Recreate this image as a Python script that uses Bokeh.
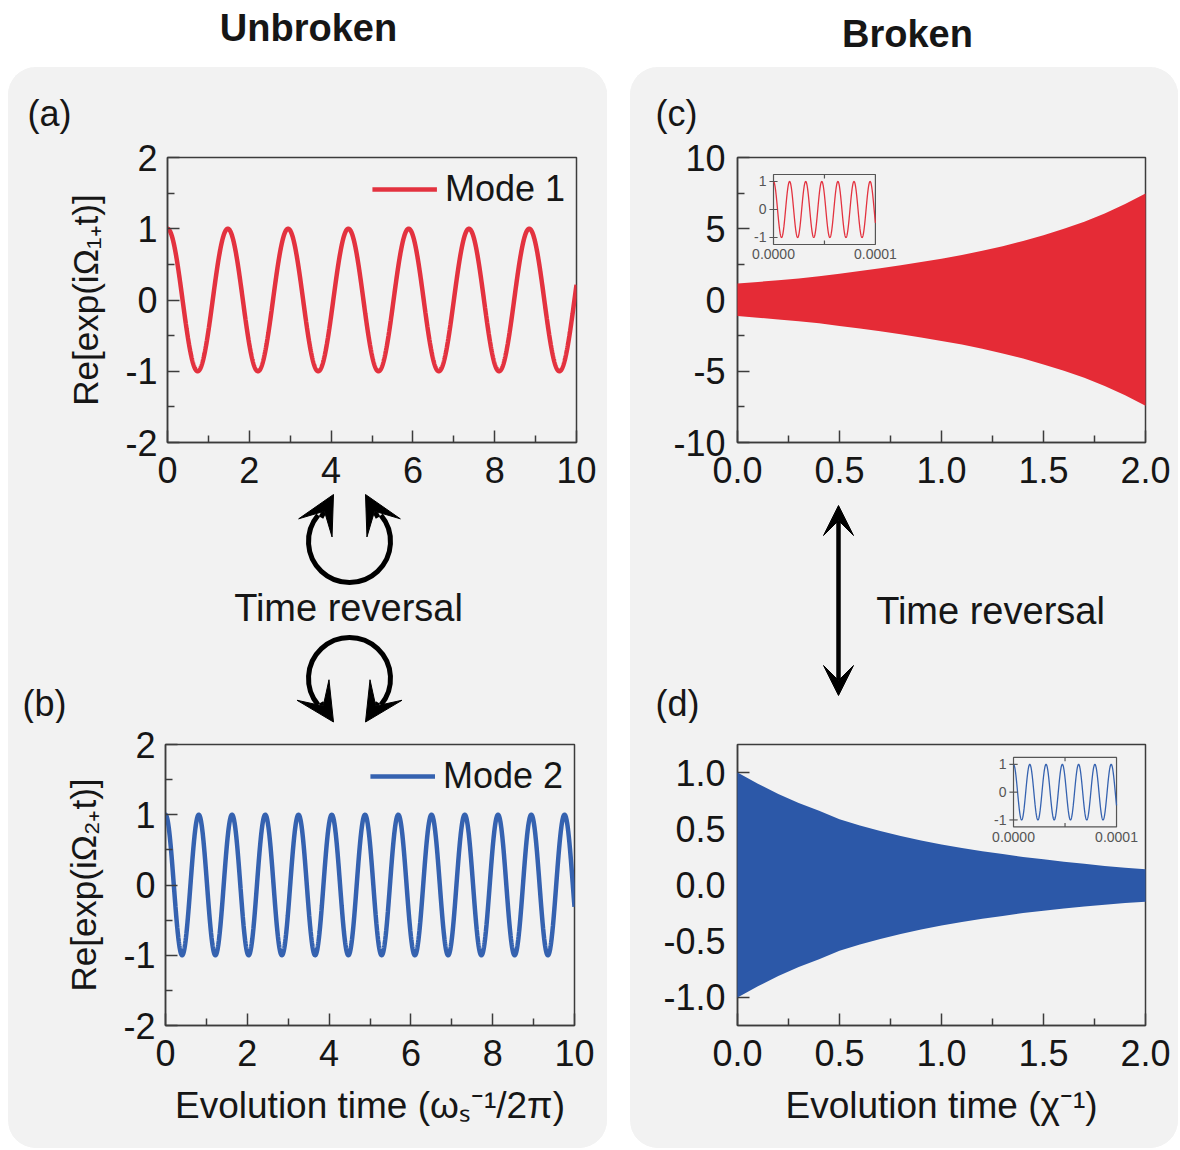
import numpy as np
from bokeh.plotting import figure
from bokeh.layouts import column, row
from bokeh.models import Range1d, FixedTicker, PrintfTickFormatter, Arrow, VeeHead, Spacer
from bokeh.core.properties import value
from bokeh.embed import file_html
from bokeh.resources import INLINE

# ---------------- values ----------------
# (a), (b): Re[exp(i Omega t)] -> unit-amplitude cosines; periods read from the peaks
mode1_period = 1.474      # units of omega_s^-1 / 2pi
mode2_period = 0.813
# insets of (c), (d): same form, period read from the peaks (units of chi^-1)
inset_period = 1.58e-5

# (c), (d): envelopes of the (unresolved) fast oscillation
env_t = [0.0, 0.1, 0.2, 0.3, 0.4, 0.5, 0.6, 0.7, 0.8, 0.9, 1.0,
         1.1, 1.2, 1.3, 1.4, 1.5, 1.6, 1.7, 1.8, 1.9, 2.0]
red_upper = [1.15, 1.27, 1.38, 1.51, 1.67, 1.85, 2.03, 2.23, 2.44, 2.66, 2.90,
             3.16, 3.45, 3.78, 4.14, 4.55, 5.00, 5.50, 6.07, 6.73, 7.48]
red_lower = [-1.12, -1.24, -1.36, -1.49, -1.64, -1.82, -2.00, -2.20, -2.41, -2.63, -2.87,
             -3.13, -3.42, -3.75, -4.11, -4.52, -4.96, -5.46, -6.03, -6.68, -7.42]
blue_upper = [1.00, 0.90, 0.81, 0.73, 0.66, 0.585, 0.53, 0.48, 0.435, 0.395, 0.36,
              0.33, 0.30, 0.275, 0.25, 0.228, 0.207, 0.188, 0.17, 0.154, 0.14]
blue_lower = [-1.00, -0.90, -0.81, -0.73, -0.66, -0.585, -0.53, -0.48, -0.435, -0.395, -0.36,
              -0.33, -0.30, -0.275, -0.25, -0.23, -0.21, -0.192, -0.175, -0.16, -0.15]

# ticks
ab_xticks = [0, 2, 4, 6, 8, 10]
ab_xminor = [1, 3, 5, 7, 9]
ab_yticks = [-2, -1, 0, 1, 2]
ab_yminor = [-1.5, -0.5, 0.5, 1.5]
cd_xticks = [0.0, 0.5, 1.0, 1.5, 2.0]
cd_xminor = [0.25, 0.75, 1.25, 1.75]
c_yticks = [-10, -5, 0, 5, 10]
c_yminor = [-7.5, -2.5, 2.5, 7.5]
d_yticks = [-1.0, -0.5, 0.0, 0.5, 1.0]
inset_xticks = [0.0, 1e-4]
inset_xlabels = ["0.0000", "0.0001"]
inset_yticks = [-1, 0, 1]
inset_ylabels = ["-1", "0", "1"]

# texts
title_left = "Unbroken"
title_right = "Broken"
panel_labels = ["(a)", "(b)", "(c)", "(d)"]
legend_labels = ["Mode 1", "Mode 2"]
ylabel_a = "Re[exp(iΩ₁₊t)]"
ylabel_b = "Re[exp(iΩ₂₊t)]"
xlabel_b = "Evolution time (ωₛ⁻¹/2π)"
xlabel_d = "Evolution time (χ⁻¹)"
reversal_text = "Time reversal"

# ---------------- styles ----------------
PANEL = "#f2f2f2"
INK = "#161616"
FRAME = "#3c3c3c"
RED = "#e52b36"
BLUE = "#2c58a8"
RED_LINE = "#e3323f"
BLUE_LINE = "#3562b0"
FONT = "Liberation Sans"

t_ab = np.linspace(0, 10, 3001)
y_a = np.cos(2 * np.pi * t_ab / mode1_period)
y_b = np.cos(2 * np.pi * t_ab / mode2_period)
t_in = np.linspace(0, 1e-4, 801)
y_in = np.cos(2 * np.pi * t_in / inset_period)


def no_align(p):
    try:
        p.frame_align = False
    except Exception:
        pass


def plot_fig(w, h, left, right, top, bottom, xr, yr):
    p = figure(width=w, height=h, x_range=Range1d(*xr), y_range=Range1d(*yr),
               output_backend="svg", toolbar_location=None,
               min_border_left=left, min_border_right=right,
               min_border_top=top, min_border_bottom=bottom,
               background_fill_color=PANEL, border_fill_color=PANEL,
               outline_line_color=FRAME, outline_line_width=1.5)
    no_align(p)
    p.grid.visible = False
    for ax in p.axis:
        ax.axis_line_color = FRAME
        ax.axis_line_width = 1.5
        ax.major_tick_in = 12
        ax.major_tick_out = 0
        ax.minor_tick_in = 7
        ax.minor_tick_out = 0
        ax.major_tick_line_color = FRAME
        ax.major_tick_line_width = 1.5
        ax.minor_tick_line_color = FRAME
        ax.minor_tick_line_width = 1.5
        ax.major_label_text_font = FONT
        ax.major_label_text_font_size = "36px"
        ax.major_label_text_color = INK
        ax.axis_label_text_font = FONT
        ax.axis_label_text_font_size = "35px"
        ax.axis_label_text_font_style = "normal"
        ax.axis_label_text_color = INK
    p.xaxis.major_label_standoff = 14
    p.yaxis.major_label_standoff = 10
    return p


def text_fig(w, h, bg=PANEL):
    p = figure(width=w, height=h, x_range=Range1d(0, w), y_range=Range1d(0, h),
               output_backend="svg", toolbar_location=None,
               x_axis_location=None, y_axis_location=None, min_border=0,
               background_fill_color=bg, border_fill_color=bg, outline_line_color=None)
    no_align(p)
    p.grid.visible = False
    return p


def put_text(p, x, y, s, size="36px", align="left", style="normal", font=FONT):
    p.text(x=[x], y=[y], text=[s], text_font=value(font), text_font_size=size,
           text_font_style=style, text_align=align, text_baseline="middle", text_color=INK)


def add_inset(p, xt, yt, color):
    sub = p.subplot(x_source=Range1d(0, 1e-4), y_source=Range1d(-1.25, 1.25),
                    x_target=Range1d(*xt), y_target=Range1d(*yt))
    sub.quad(left=[0], right=[1e-4], bottom=[-1.25], top=[1.25],
             fill_color=PANEL, line_color="#555555", line_width=1.2)
    sub.line(t_in, y_in, line_color=color, line_width=1.3)
    sub.segment(x0=[-4e-6] * 3, x1=[4e-6] * 3, y0=inset_yticks, y1=inset_yticks,
                line_color="#555555", line_width=1.2)
    sub.segment(x0=[5e-5, 5e-5], x1=[5e-5, 5e-5], y0=[1.25, -1.25], y1=[1.11, -1.11],
                line_color="#555555", line_width=1.2)
    sub.text(x=[0] * 3, y=inset_yticks, text=inset_ylabels, x_offset=-7,
             text_align="right", text_baseline="middle", text_font=value(FONT),
             text_font_size="14px", text_color="#555555")
    sub.text(x=inset_xticks, y=[-1.25] * 2, text=inset_xlabels, y_offset=5,
             text_align="center", text_baseline="top", text_font=value(FONT),
             text_font_size="14px", text_color="#555555")


def style_legend(p):
    lg = p.legend[0]
    lg.location = "top_right"
    lg.label_text_font = FONT
    lg.label_text_font_size = "36px"
    lg.label_text_color = INK
    lg.glyph_width = 65
    lg.glyph_height = 30
    lg.label_standoff = 8
    lg.padding = 6
    lg.margin = 5
    lg.background_fill_alpha = 0
    lg.border_line_alpha = 0


def head(size):
    return VeeHead(size=size, fill_color="black", line_color="black", line_width=1)


WL, WR = 599, 548
H_HEAD, H_TOP, H_MID, H_BOT = 69, 356, 231, 425

# ---------------- title row ----------------
title_fig = text_fig(8 + WL + 23 + WR, 67, bg="#ffffff")
put_text(title_fig, 308, 40, title_left, size="38px", align="center", style="bold")
put_text(title_fig, 907, 34, title_right, size="38px", align="center", style="bold")

# ---------------- left panel ----------------
headA = text_fig(WL, H_HEAD)
put_text(headA, 19, 23, panel_labels[0])

pa = plot_fig(WL, H_TOP, 159, 31, 21, 50, (0, 10), (-2, 2))
pa.line(t_ab, y_a, line_color=RED_LINE, line_width=4.5, legend_label=legend_labels[0])
pa.xaxis.ticker = FixedTicker(ticks=ab_xticks, minor_ticks=ab_xminor)
pa.yaxis.ticker = FixedTicker(ticks=ab_yticks, minor_ticks=ab_yminor)
pa.xaxis.formatter = PrintfTickFormatter(format="%d")
pa.yaxis.formatter = PrintfTickFormatter(format="%d")
pa.yaxis.axis_label = ylabel_a
pa.yaxis.axis_label_standoff = 17
style_legend(pa)

midL = text_fig(WL, H_MID)
# circular arrows (pixel-space drawing)
midL.arc(x=[341], y=[182], radius=41, start_angle=np.deg2rad(140), end_angle=np.deg2rad(40),
         direction="anticlock", line_width=5, line_color="black")
midL.arc(x=[341], y=[45], radius=41, start_angle=np.deg2rad(-40), end_angle=np.deg2rad(220),
         direction="anticlock", line_width=5, line_color="black")
for (xs, ys, xe, ye) in [(312.5, 206, 325, 229), (369.5, 206, 357, 229),
                         (312.5, 21, 325, 1.5), (369.5, 21, 357, 1.5)]:
    midL.add_layout(Arrow(end=head(38), x_start=xs, y_start=ys, x_end=xe, y_end=ye,
                          line_width=5, line_color="black"))
put_text(midL, 340, 116, reversal_text, size="38px", align="center")
put_text(midL, 14, 20, panel_labels[1])

pb = plot_fig(WL, H_BOT, 157, 33, 21, 123, (0, 10), (-2, 2))
pb.line(t_ab, y_b, line_color=BLUE_LINE, line_width=4.5, legend_label=legend_labels[1])
pb.xaxis.ticker = FixedTicker(ticks=ab_xticks, minor_ticks=ab_xminor)
pb.yaxis.ticker = FixedTicker(ticks=ab_yticks, minor_ticks=ab_yminor)
pb.xaxis.formatter = PrintfTickFormatter(format="%d")
pb.yaxis.formatter = PrintfTickFormatter(format="%d")
pb.yaxis.axis_label = ylabel_b
pb.yaxis.axis_label_standoff = 17
pb.xaxis.axis_label = xlabel_b
pb.xaxis.axis_label_text_font_size = "37px"
pb.xaxis.axis_label_standoff = 16
style_legend(pb)

# ---------------- right panel ----------------
headC = text_fig(WR, H_HEAD)
put_text(headC, 25, 23, panel_labels[2])

pc = plot_fig(WR, H_TOP, 107, 33, 21, 50, (0, 2), (-10, 10))
pc.varea(x=env_t, y1=red_lower, y2=red_upper, fill_color=RED, level="overlay")
pc.xaxis.ticker = FixedTicker(ticks=cd_xticks, minor_ticks=cd_xminor)
pc.yaxis.ticker = FixedTicker(ticks=c_yticks, minor_ticks=c_yminor)
pc.xaxis.formatter = PrintfTickFormatter(format="%.1f")
pc.yaxis.formatter = PrintfTickFormatter(format="%d")
pc.yaxis.major_label_standoff = 12
add_inset(pc, (0.1765, 0.676), (3.895, 8.807), RED_LINE)

midR = text_fig(WR, H_MID)
midR.add_layout(Arrow(start=head(30), end=head(30),
                      x_start=208, y_start=28, x_end=208, y_end=218,
                      line_width=4.5, line_color="black"))
put_text(midR, 360, 113, reversal_text, size="38px", align="center")
put_text(midR, 25, 20, panel_labels[3])

pd_ = plot_fig(WR, H_BOT, 107, 33, 21, 123, (0, 2), (-1.25, 1.25))
pd_.varea(x=env_t, y1=blue_lower, y2=blue_upper, fill_color=BLUE, level="overlay")
pd_.xaxis.ticker = FixedTicker(ticks=cd_xticks, minor_ticks=cd_xminor)
pd_.yaxis.ticker = FixedTicker(ticks=d_yticks, minor_ticks=[])
pd_.xaxis.formatter = PrintfTickFormatter(format="%.1f")
pd_.yaxis.formatter = PrintfTickFormatter(format="%.1f")
pd_.yaxis.major_label_standoff = 12
pd_.xaxis.axis_label = xlabel_d
pd_.xaxis.axis_label_text_font_size = "37px"
pd_.xaxis.axis_label_standoff = 16
add_inset(pd_, (1.353, 1.858), (0.517, 1.135), BLUE_LINE)

panel_style = {"border-radius": "28px", "overflow": "hidden", "background-color": PANEL}
left_col = column(headA, pa, midL, pb, styles=panel_style)
right_col = column(headC, pc, midR, pd_, styles=panel_style)
layout = column(title_fig,
                row(Spacer(width=8, height=10), left_col, Spacer(width=23, height=10), right_col))

open("out.html", "w").write(file_html(layout, INLINE, title="Unbroken vs Broken"))
